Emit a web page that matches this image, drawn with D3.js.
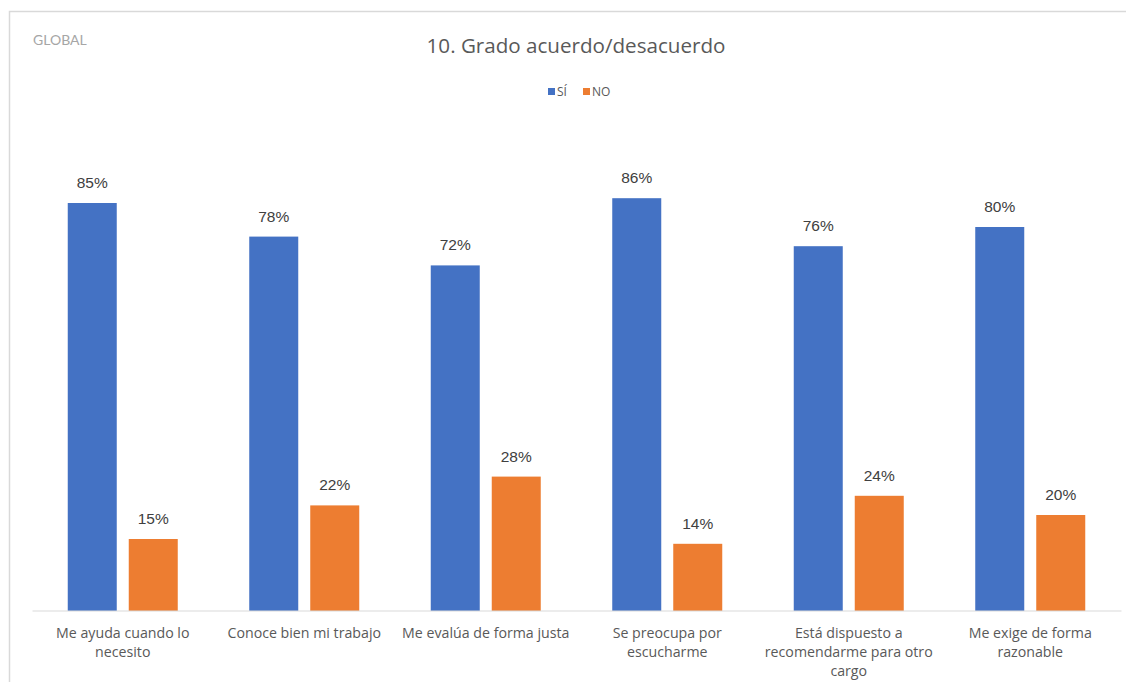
<!DOCTYPE html>
<html>
<head>
<meta charset="utf-8">
<script src="https://cdn.jsdelivr.net/npm/d3@7"></script>
<style>
  html, body { margin: 0; padding: 0; background: #fff; }
  svg { display: block; }
</style>
</head>
<body>
<svg id="chart" width="1126" height="682"></svg>
<script>
const categoryLines = [
  ["Me ayuda cuando lo", "necesito"],
  ["Conoce bien mi trabajo"],
  ["Me evalúa de forma justa"],
  ["Se preocupa por", "escucharme"],
  ["Está dispuesto a", "recomendarme para otro", "cargo"],
  ["Me exige de forma", "razonable"]
];
const categories = categoryLines.map(l => l.join(" "));
const seriesNames = ["SÍ", "NO"];
const siValues = [85, 78, 72, 86, 76, 80];
const noValues = [15, 22, 28, 14, 24, 20];
const colors = ["#4472C4", "#ED7D31"];

const svg = d3.select("#chart");
const W = 1126, H = 682;
const FONT = "'Open Sans', Lato, sans-serif";

// frame
svg.append("rect").attr("x", 9.5).attr("y", 11.5).attr("width", W + 20).attr("height", H + 20)
  .attr("fill", "#fff").attr("stroke", "#d9d9d9").attr("stroke-width", 1.5);

svg.append("text").attr("x", 33).attr("y", 45).text("GLOBAL")
  .attr("font-family", "Lato, 'Open Sans', sans-serif").attr("font-size", 14).attr("fill", "#a6a6a6");

svg.append("text").attr("x", 576).attr("y", 53).attr("text-anchor", "middle")
  .text("10. Grado acuerdo/desacuerdo")
  .attr("font-family", FONT).attr("font-size", 20.6).attr("fill", "#595959");

// legend
const legend = svg.append("g").attr("font-family", FONT).attr("font-size", 12).attr("fill", "#595959");
const legendX = [548, 583];
seriesNames.forEach((s, i) => {
  legend.append("rect").attr("x", legendX[i]).attr("y", 88).attr("width", 7).attr("height", 7).attr("fill", colors[i]);
  legend.append("text").attr("x", legendX[i] + 9).attr("y", 96).text(s);
});

const x0 = d3.scaleBand().domain(categories).range([32, 1121]).paddingInner(0).paddingOuter(0);
const y = d3.scaleLinear().domain([0, 100]).range([611, 131]);

const barW = 49, gap = 12;
const data = categories.map((c, i) => ({ c, vals: [siValues[i], noValues[i]] }));

const groups = svg.append("g").selectAll("g").data(data).join("g")
  .attr("transform", d => `translate(${x0(d.c) + x0.bandwidth() / 2},0)`);

groups.each(function(d) {
  const g = d3.select(this);
  d.vals.forEach((v, i) => {
    const bx = i === 0 ? -gap / 2 - barW : gap / 2;
    g.append("rect").attr("x", bx).attr("y", y(v)).attr("width", barW).attr("height", y(0) - y(v))
      .attr("fill", colors[i]);
    g.append("text").attr("x", bx + barW / 2).attr("y", y(v) - 15).attr("text-anchor", "middle")
      .text(v + "%").attr("font-family", "'Liberation Sans', Arial, sans-serif").attr("font-size", 15.5)
      .attr("fill", "#404040");
  });
});

// axis
const axis = d3.axisBottom(x0).tickSize(0).tickFormat("");
const ax = svg.append("g").attr("transform", "translate(0,610.5)").call(axis);
ax.select(".domain").attr("stroke", "#d9d9d9").attr("stroke-width", 1.2);

// category labels
groups.append("text").attr("text-anchor", "middle")
  .attr("font-family", FONT).attr("font-size", 14.2).attr("fill", "#595959")
  .each(function(d, i) {
    const t = d3.select(this);
    categoryLines[i].forEach((line, k) => {
      t.append("tspan").attr("x", 0).attr("y", 638 + k * 19).text(line);
    });
  });
</script>
</body>
</html>
